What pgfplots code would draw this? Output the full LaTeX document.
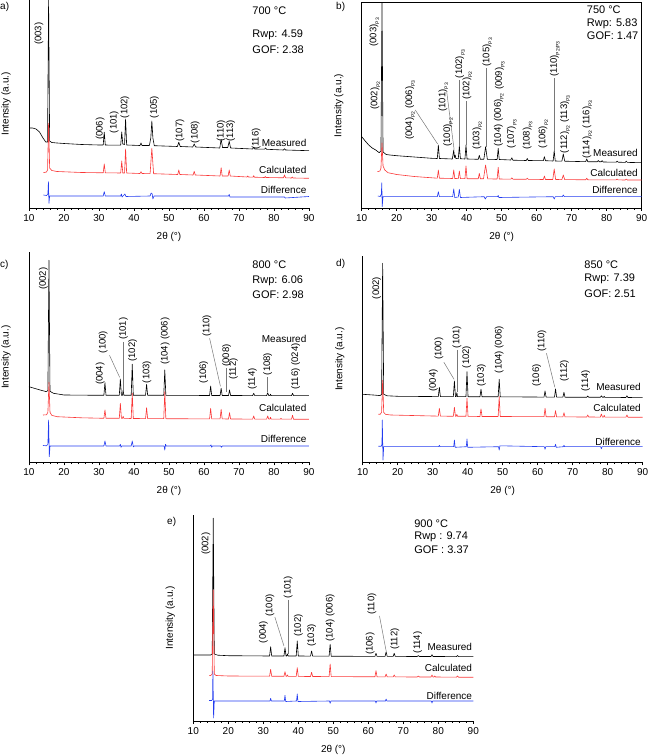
\documentclass[border=0pt]{standalone}
\usepackage{fontspec}
\setmainfont{Liberation Sans}
\usepackage{pgfplots}
\pgfplotsset{compat=1.18}
\definecolor{mred}{RGB}{250,55,55}
\definecolor{mblue}{RGB}{35,60,240}
\definecolor{lead}{RGB}{120,120,120}
\newcommand{\fsz}{\fontsize{10}{12}\selectfont}
\newcommand{\fsl}{\fontsize{9.5}{11}\selectfont}
\newcommand{\fsa}{\fontsize{11}{13}\selectfont}
\newcommand{\Ps}[1]{\raisebox{-0.55ex}{\fontsize{5}{6}\selectfont #1}}
\pgfplotsset{
 xrd/.style={scale only axis, width=280pt, xmin=10, xmax=90, ymin=0, anchor=south west,
  xtick={10,20,...,90}, minor x tick num=4, ytick=\empty, tick align=outside, tick pos=left,
  major tick length=3pt, minor tick length=1.8pt,
  every tick/.style={black, line width=0.6pt},
  axis line style={-, line width=0.7pt, black},
  /pgf/number format/assume math mode=true,
  tick label style={font=\fsz},
  xlabel={2θ (°)}, ylabel={Intensity (a.u.)},
  label style={font=\fsz},
  xlabel style={at={(axis description cs:0.5,0)}, anchor=center, yshift=-29pt},
  ylabel style={at={(axis description cs:-0.082,0.5)}, anchor=center},
  clip=false,
  every axis plot/.append style={line width=0.6pt, line join=round},
 },
 open/.style={axis x line*=bottom, axis y line*=left},
}
\tikzset{
 lbl/.style={rotate=90, anchor=west, inner sep=0pt, font=\fsl},
 rl/.style={anchor=east, inner sep=0pt, font=\fsz},
 ann/.style={anchor=west, inner sep=0pt, font=\fsa},
 ld/.style={lead, line width=0.5pt},
}
\begin{document}
\begin{tikzpicture}
\useasboundingbox (0,0) rectangle (649pt,756pt);
\node[anchor=west, inner sep=0pt, font=\fsz] at (0pt,749pt) {a)};
\node[anchor=west, inner sep=0pt, font=\fsz] at (336pt,749pt) {b)};
\node[anchor=west, inner sep=0pt, font=\fsz] at (0pt,491pt) {c)};
\node[anchor=west, inner sep=0pt, font=\fsz] at (336pt,492pt) {d)};
\node[anchor=west, inner sep=0pt, font=\fsz] at (167pt,234pt) {e)};

% ---------------- a) 700 C
\begin{axis}[xrd, open, at={(29pt,548pt)}, height=208pt, ymax=208]
\addplot[black] coordinates {(10,80) (11,80) (12,79) (13,76) (14,70) (14.8,66) (15.3,66) (15.6,208) (15.9,67) (16.5,65.5) (18,65) (20,64.5) (25,63.5) (30,63) (31.2,63) (31.5,75.7) (31.8,63) (34,62.8) (36.2,62.8) (36.5,76) (36.8,64) (37.3,63.5) (37.6,89) (37.9,63) (41.7,62.5) (42,65) (42.3,62.5) (44.4,62.5) (44.8,70) (45.1,87) (45.4,70) (45.8,62.3) (52.4,61.5) (52.8,65.7) (53.2,61.5) (56.8,61) (57.2,64) (57.6,61) (64.5,60) (64.9,68.7) (65.3,60.5) (66.8,60.5) (67.2,66.7) (67.6,60) (73.9,59) (74.2,60.8) (74.5,59) (77.3,58.8) (77.6,60) (77.9,58.7) (82.7,58) (83,59.3) (83.3,58) (90,57.3)};
\addplot[mred] coordinates {(14.1,35.3) (15,36) (15.3,38) (15.6,85) (15.9,40) (16.5,37.5) (18,36.5) (25,35.5) (31.2,35.2) (31.5,44) (31.8,35.2) (36.2,35) (36.5,47) (36.8,35) (37.3,35) (37.6,59) (37.9,35) (41.7,34.5) (42,36.3) (42.3,34.5) (44.6,34.3) (45.1,59.7) (45.6,34.3) (52.5,33.5) (52.8,38) (53.1,33.5) (56.9,33) (57.2,36.7) (57.5,33) (64.6,32) (64.9,40.3) (65.2,32) (66.9,32) (67.2,38) (67.5,32) (72.3,31) (72.5,32) (72.7,31) (74,30.8) (74.2,32.3) (74.4,30.8) (77.3,30.5) (77.5,31.5) (77.7,30.5) (82.7,30.2) (83,33) (83.3,30.2) (85,30) (85.2,31) (85.4,30) (90,29.7)};
\addplot[mblue] coordinates {(14.1,13) (15,12.5) (15.4,14) (15.55,26.3) (15.7,4.7) (15.9,12) (17,12) (31.2,12) (31.5,16.3) (31.8,12) (36.2,12) (36.4,14) (36.6,11) (37.4,14) (37.7,11.5) (44.6,12) (44.9,15) (45.2,14) (45.4,9) (45.7,12) (67,12) (67.2,13.5) (67.4,11) (83,11) (83.2,10) (90,11.5)};
\node[lbl] at (12.86,163) {(003)};
\node[lbl] at (30.3,68) {(006)};
\node[lbl] at (34.3,74.7) {(101)};
\node[lbl] at (37.4,89.7) {(102)};
\node[lbl] at (45.8,89.7) {(105)};
\node[lbl] at (53.1,66.3) {(107)};
\node[lbl] at (57.5,64.7) {(108)};
\node[lbl] at (64.9,66.3) {(110)};
\node[lbl] at (67.6,66.3) {(113)};
\node[lbl] at (74.9,58) {(116)};
\node[rl] at (89.3,64.7) {Measured};
\node[rl] at (89.3,38) {Calculated};
\node[rl] at (89.3,18) {Difference};
\node[ann] at (73.8,197) {700 °C};
\node[ann] at (73.8,173) {Rwp: 4.59};
\node[ann] at (73.8,158) {GOF: 2.38};
\end{axis}

% ---------------- b) 750 C
\begin{axis}[xrd, at={(361.7pt,548pt)}, height=205.3pt, ymax=205.3]
\addplot[black] coordinates {(10,71.3) (11,67) (12,63) (13,60) (14,58) (15,55.3) (15.5,57) (15.8,205.3) (16.1,56) (17,53.5) (18,53) (20,52.3) (25,51) (30,49.7) (31.6,49.5) (31.9,63) (32.2,49.5) (35.9,49) (36.3,58) (36.5,50.5) (36.7,53) (36.9,49.5) (37.6,49.3) (37.9,62) (38.2,49.3) (39.5,49) (39.8,63) (40.1,49) (43.3,48.7) (43.6,52.7) (43.9,48.7) (44.9,48.7) (45.4,61.3) (45.9,48.7) (48.7,48.5) (49,59.7) (49.3,48.5) (52.6,48) (52.9,50.2) (53.2,47.8) (57,47.5) (57.3,49.5) (57.6,47.5) (61.9,47.3) (62.2,51.3) (62.5,47.3) (64.7,47) (65,57.3) (65.3,47) (67.2,46.8) (67.6,54) (68,46.8) (74,46.3) (74.3,49) (74.6,46.3) (77.3,46.2) (77.6,47.5) (77.9,46.2) (78.4,46.2) (78.7,47.3) (79,46) (82.7,45.8) (83,46.8) (83.3,45.8) (85.3,45.6) (85.6,46.8) (85.9,45.6) (90,45.3)};
\addplot[mred] coordinates {(14.5,36.3) (15.2,37) (15.5,40) (15.8,65) (16.1,42) (16.6,38) (17.5,35.3) (20,33.5) (25,31.5) (31.6,29.8) (31.9,38) (32.2,29.8) (36,29.5) (36.3,38) (36.6,29.5) (37.6,29.4) (37.9,37) (38.2,29.4) (39.5,29.3) (39.8,42) (40.1,29.3) (43.3,29.2) (43.6,34.7) (43.9,29.2) (44.8,29.2) (45.4,43) (46,29.1) (48.7,29) (49,40.7) (49.3,29) (52.6,28.8) (52.9,30.2) (53.2,28.8) (57,28.7) (57.3,29.8) (57.6,28.7) (61.9,28.5) (62.2,32) (62.5,28.5) (64.6,28.5) (65,39) (65.4,28.5) (67.2,28.4) (67.6,33) (68,28.4) (74,28.2) (74.3,29.8) (74.6,28.2) (82.7,28.1) (83,29) (83.3,28.1) (85.3,28) (85.6,29) (85.9,28) (90,28)};
\addplot[mblue] coordinates {(14.6,12) (15.3,11.5) (15.6,14) (15.75,25.3) (15.85,1.3) (16.1,11.3) (17,11.3) (31.6,11.3) (31.9,16.3) (32.2,11.3) (36,11.3) (36.3,19) (36.6,10.5) (37.6,11) (37.9,18.7) (38.2,10.5) (45,11.3) (45.3,9) (45.7,11.3) (48.8,11.3) (49,12.5) (49.2,10.5) (64.7,11.3) (65,9) (65.3,11.3) (67.3,11.3) (67.6,13) (67.9,11.3) (90,11.3)};
\node[lbl] at (13.9,98) {(002)\Ps{P2}};
\node[lbl] at (13.6,161.3) {(003)\Ps{P3}};
\node[lbl] at (23.8,68) {(004)\Ps{P2} (006)\Ps{P3}};
\draw[ld] (25.3,98) -- (31.7,64);
\node[lbl] at (33.3,96.3) {(101)\Ps{P3}};
\draw[ld] (34.3,116) -- (36.4,58.5);
\node[lbl] at (34.7,61.3) {(100)\Ps{P2}};
\node[lbl] at (38.1,129.7) {(102)\Ps{P3}};
\draw[ld] (37.9,128) -- (37.9,62);
\node[lbl] at (40.2,108) {(102)\Ps{P2}};
\draw[ld] (39.8,106.5) -- (39.8,63);
\node[lbl] at (43.0,58) {(103)\Ps{P2}};
\node[lbl] at (45.9,141.3) {(105)\Ps{P3}};
\draw[ld] (45.5,139.5) -- (45.5,61.3);
\node[lbl] at (49.2,61.3) {(104) (006)\Ps{P2}};
\node[lbl] at (49.5,118) {(009)\Ps{P3}};
\node[lbl] at (52.9,59.7) {(107)\Ps{P3}};
\node[lbl] at (57.4,58) {(108)\Ps{P3}};
\node[lbl] at (61.9,59.7) {(106)\Ps{P2}};
\node[lbl] at (65.2,131.3) {(110)\Ps{P2/P3}};
\draw[ld] (64.95,129.5) -- (64.95,57.3);
\node[lbl] at (68.1,54.7) {(112)\Ps{P2} (113)\Ps{P3}};
\node[lbl] at (74.5,49.5) {(114)\Ps{P2} (116)\Ps{P3}};
\node[rl] at (88.9,55.5) {Measured};
\node[rl] at (88.9,34.7) {Calculated};
\node[rl] at (88.9,18) {Difference};
\node[ann] at (74.3,198) {750 °C};
\node[ann] at (74.3,184) {Rwp: 5.83};
\node[ann] at (74.3,172) {GOF: 1.47};
\end{axis}

% ---------------- c) 800 C
\begin{axis}[xrd, open, at={(29pt,293.7pt)}, height=210.3pt, ymax=210.3]
\addplot[black] coordinates {(10,75.6) (12,73.5) (14,71.5) (15,70.6) (15.4,72) (15.7,202) (16,71) (17,69) (20,67.3) (30,67) (31.4,67) (31.7,79.6) (32,67) (35.8,67) (36.1,83.3) (36.4,67) (36.7,67) (36.9,72.3) (37.1,67) (39.2,67) (39.5,98) (39.8,67) (43.3,67) (43.6,78) (43.9,67) (48.5,67) (48.8,92.3) (49.1,67) (61.6,66.8) (61.9,76.3) (62.2,66.8) (64.6,66.8) (64.9,74) (65.2,66.8) (67,66.8) (67.3,72.3) (67.6,66.8) (73.9,66.7) (74.2,69) (74.5,66.7) (77.9,66.7) (78.2,69.6) (78.5,66.7) (78.8,66.7) (79,68) (79.2,66.6) (85,66.6) (85.3,69) (85.6,66.6) (90,66.6)};
\addplot[mred] coordinates {(14,47.3) (15,47.5) (15.4,50) (15.7,80) (16,50) (16.5,47) (18,45.6) (25,44.5) (31.4,44) (31.7,52.3) (32,44) (35.8,44) (36.1,59) (36.4,44) (36.7,44) (36.9,46) (37.1,44) (39.2,43.8) (39.5,69) (39.8,43.8) (43.3,43.7) (43.6,54.6) (43.9,43.7) (48.5,43.6) (48.8,70.6) (49.1,43.6) (61.6,43.4) (61.9,54) (62.2,43.4) (64.6,43.4) (64.9,53) (65.2,43.4) (67,43.3) (67.3,49.6) (67.6,43.3) (73.9,43.2) (74.2,46.3) (74.5,43.2) (77.9,43.2) (78.2,46.3) (78.5,43.2) (78.8,43.2) (79,45) (79.2,43.2) (81.8,43.1) (82,44) (82.2,43.1) (85,43.1) (85.3,47) (85.6,43) (90,43)};
\addplot[mblue] coordinates {(14,16.8) (15,16.5) (15.4,18) (15.6,42.3) (15.8,5.6) (16,16.3) (31.4,16.3) (31.7,21.3) (32,16.3) (35.9,16.3) (36.1,18) (36.3,15) (36.5,16.3) (39.2,16.3) (39.5,21.3) (39.8,15.5) (40.1,16.3) (48.6,16.3) (48.8,12.3) (49,18) (49.2,16.3) (61.8,16.3) (62,17.5) (62.2,15) (62.4,16.3) (64.8,16.3) (65,15) (65.2,16.3) (90,16.3)};
\node[lbl] at (14.1,172.3) {(002)};
\node[lbl] at (30.3,77.3) {(004)};
\node[lbl] at (31.2,109) {(100)};
\draw[ld] (33.0,107) -- (35.9,85);
\node[lbl] at (37.0,122.3) {(101)};
\draw[ld] (36.95,120.5) -- (36.95,72);
\node[lbl] at (39.6,100.6) {(102)};
\node[lbl] at (43.7,79) {(103)};
\node[lbl] at (48.9,97.3) {(104) (006)};
\node[lbl] at (59.9,79) {(106)};
\node[lbl] at (60.8,125.6) {(110)};
\draw[ld] (61.6,124) -- (64.7,76);
\node[lbl] at (66.5,95.6) {(008)};
\draw[ld] (66.5,94) -- (66.5,70);
\node[lbl] at (68.4,82.3) {(112)};
\node[lbl] at (73.8,72.3) {(114)};
\node[lbl] at (78.2,87) {(108)};
\draw[ld] (78.2,85.5) -- (78.2,70);
\node[lbl] at (86.2,72.3) {(116) (024)};
\node[rl] at (89.3,123) {Measured};
\node[rl] at (89.3,54) {Calculated};
\node[rl] at (89.3,23.3) {Difference};
\node[ann] at (73.8,197.3) {800 °C};
\node[ann] at (73.8,181.6) {Rwp: 6.06};
\node[ann] at (73.8,168) {GOF: 2.98};
\end{axis}

% ---------------- d) 850 C
\begin{axis}[xrd, open, at={(362.7pt,293.7pt)}, height=206.3pt, ymax=206.3]
\addplot[black] coordinates {(10,68) (13,67.3) (15,66.7) (15.4,68) (15.7,199) (16,68) (17,66.5) (20,66) (31.6,65.7) (31.9,75) (32.2,65.7) (35.9,65.6) (36.2,81.3) (36.5,65.6) (36.7,65.6) (36.9,69.6) (37.1,65.6) (39.5,65.6) (39.8,90.6) (40.1,65.6) (43.5,65.5) (43.8,73) (44.1,65.5) (48.7,65.5) (49,83) (49.3,65.5) (61.8,65.2) (62.1,71.3) (62.4,65.2) (64.8,65.2) (65.1,73.3) (65.4,65.2) (67.2,65.1) (67.5,70) (67.8,65.1) (74,65) (74.3,66.3) (74.6,65) (77.9,65) (78.2,66.5) (78.5,65) (78.8,65) (79,66) (79.2,65) (85.2,64.8) (85.5,66.5) (85.8,64.8) (90,64.6)};
\addplot[mred] coordinates {(14.5,48) (15,48) (15.4,50) (15.7,82) (16,50) (16.5,48) (18,47.3) (30,46.3) (31.6,46.2) (31.9,54) (32.2,46.2) (35.9,46) (36.2,55) (36.5,46) (36.7,46) (36.9,48) (37.1,46) (39.5,46) (39.8,64) (40.1,46) (43.5,45.8) (43.8,53.3) (44.1,45.8) (48.7,45.8) (49,65.6) (49.3,45.8) (61.8,45.6) (62.1,54) (62.4,45.6) (64.8,45.5) (65.1,51.6) (65.4,45.5) (67.2,45.4) (67.5,49.6) (67.8,45.4) (74,45.3) (74.3,47.3) (74.6,45.3) (77.9,45.2) (78.2,48.3) (78.5,45.2) (78.8,45.2) (79,47) (79.2,45.1) (85.2,45.1) (85.5,47.3) (85.8,45) (90,45)};
\addplot[mblue] coordinates {(14.5,16) (15.3,16) (15.5,18) (15.6,42.3) (15.8,2.3) (16,15.6) (31.7,15.6) (31.9,17) (32.1,15.6) (36,15.6) (36.2,22.3) (36.4,15) (39.6,15.6) (39.8,23.3) (40,15) (48.8,15.6) (49,12.3) (49.2,16.5) (61.9,15.6) (62.1,13) (62.3,15.6) (64.9,15.6) (65.1,18) (65.3,15) (67.3,15.6) (67.5,17) (67.7,15.6) (78,15.6) (78.2,13.5) (78.4,15.6) (90,15.6)};
\node[lbl] at (14.0,163) {(002)};
\node[lbl] at (30.2,70.6) {(004)};
\node[lbl] at (31.8,102.3) {(100)};
\draw[ld] (33.2,100) -- (36.1,83);
\node[lbl] at (36.9,114) {(101)};
\draw[ld] (36.9,112.5) -- (36.9,70);
\node[lbl] at (39.7,94) {(102)};
\node[lbl] at (43.9,75.6) {(103)};
\node[lbl] at (49.0,89) {(104) (006)};
\node[lbl] at (59.7,75.6) {(106)};
\node[lbl] at (61.2,110.6) {(110)};
\draw[ld] (62.5,109) -- (64.9,75);
\node[lbl] at (67.6,80.6) {(112)};
\node[lbl] at (73.7,70.6) {(114)};
\node[rl] at (89.5,75) {Measured};
\node[rl] at (89.5,54) {Calculated};
\node[rl] at (89.5,20) {Difference};
\node[ann] at (73.3,197.3) {850 °C};
\node[ann] at (73.3,183) {Rwp: 7.39};
\node[ann] at (73.3,169) {GOF: 2.51};
\end{axis}

% ---------------- e) 900 C
\begin{axis}[xrd, open, at={(193.3pt,35pt)}, height=206pt, ymax=206]
\addplot[black] coordinates {(10,66) (15,66) (15.4,67) (15.7,202.7) (16,67) (17,65.8) (20,65.3) (31.8,65) (32.1,74.3) (32.4,65) (35.9,65) (36.2,73.3) (36.5,65) (36.7,65) (36.9,67) (37.1,65) (39.4,65) (39.7,80) (40,65) (43.5,64.9) (43.8,70) (44.1,64.9) (48.8,64.8) (49.1,76.7) (49.4,64.8) (61.9,64.6) (62.2,67.7) (62.5,64.6) (64.8,64.6) (65.1,69.3) (65.4,64.6) (67.1,64.6) (67.4,67.7) (67.7,64.6) (74,64.5) (74.3,65.5) (74.6,64.5) (77.9,64.5) (78.2,66.3) (78.5,64.5) (85.2,64.4) (85.5,65.5) (85.8,64.4) (90,64.3)};
\addplot[mred] coordinates {(14.5,45.3) (15,45.5) (15.4,47) (15.7,131) (16,47) (16.5,45.5) (20,45) (31.8,44.8) (32.1,51.7) (32.4,44.8) (35.9,44.7) (36.2,49.3) (36.5,44.7) (36.7,44.7) (36.9,46) (37.1,44.7) (39.4,44.6) (39.7,53.3) (40,44.6) (43.5,44.5) (43.8,48.7) (44.1,44.5) (48.8,44.4) (49.1,57) (49.4,44.4) (61.9,44.2) (62.2,50.3) (62.5,44.2) (64.8,44.1) (65.1,47) (65.4,44.1) (67.1,44.1) (67.4,46) (67.7,44.1) (74,44) (74.3,45) (74.6,44) (77.9,44) (78.2,46) (78.5,44) (78.8,44) (79,45) (79.2,44) (85.2,43.8) (85.5,45) (85.8,43.8) (90,43.7)};
\addplot[mblue] coordinates {(14.5,20.5) (15.3,20.5) (15.5,22) (15.6,50) (15.8,3) (16,20) (31.9,20) (32.1,22.7) (32.3,20) (36,20) (36.2,25.7) (36.4,19.5) (39.5,20) (39.7,27) (39.9,19.5) (48.9,20) (49.1,17.7) (49.3,20) (62,20) (62.2,18) (62.4,20) (64.9,20) (65.1,22) (65.3,20) (78,20) (78.2,18) (78.4,20) (90,20)};
\node[lbl] at (13.6,166) {(002)};
\node[lbl] at (30.0,77.7) {(004)};
\node[lbl] at (31.9,104.3) {(100)};
\draw[ld] (33.3,104) -- (35.9,75);
\node[lbl] at (37.1,122.7) {(101)};
\draw[ld] (37.0,121) -- (37.0,67);
\node[lbl] at (40.0,84.3) {(102)};
\node[lbl] at (43.8,74.3) {(103)};
\node[lbl] at (49.1,79.3) {(104) (006)};
\node[lbl] at (60.5,66) {(106)};
\node[lbl] at (61.0,106) {(110)};
\draw[ld] (63.2,105) -- (65.1,70);
\node[lbl] at (67.6,71) {(112)};
\node[lbl] at (74.1,67.7) {(114)};
\node[rl] at (89.7,74.3) {Measured};
\node[rl] at (89.7,52.7) {Calculated};
\node[rl] at (89.7,25.3) {Difference};
\node[ann] at (73.1,197) {900 °C};
\node[ann] at (73.1,184.3) {Rwp : 9.74};
\node[ann] at (73.1,171.7) {GOF : 3.37};
\end{axis}
\end{tikzpicture}
\end{document}
